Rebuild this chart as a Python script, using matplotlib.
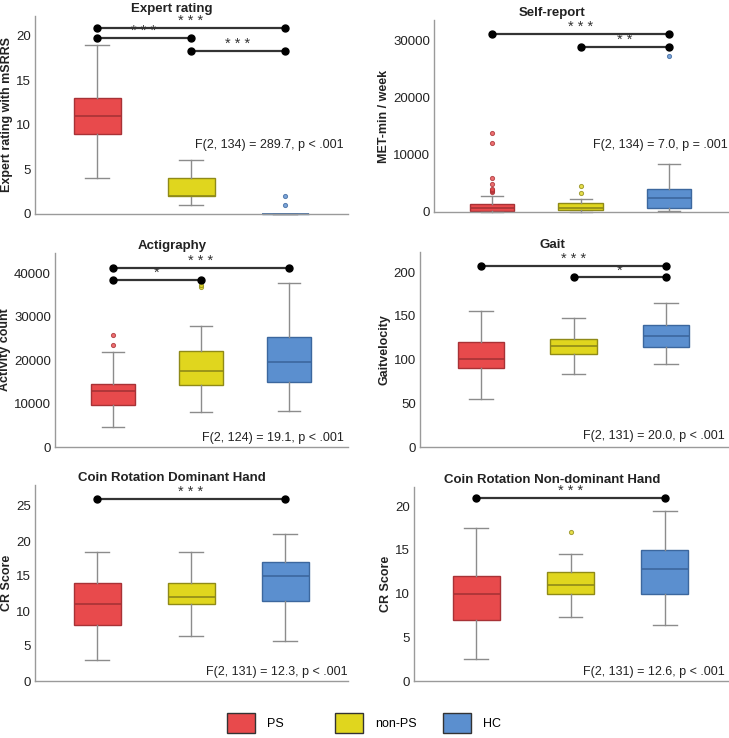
import matplotlib
matplotlib.use("Agg")
import matplotlib.pyplot as plt
from matplotlib.patches import Patch

plt.rcParams['font.family'] = ['Liberation Sans', 'DejaVu Sans']

groups = ["PS", "non-PS", "HC"]
fill_colors = ["#E84A4C", "#E0D61E", "#5B8FCF"]
edge_colors = ["#A83236", "#8F8A18", "#3C679E"]

titles = ["Expert rating", "Self-report", "Actigraphy", "Gait",
          "Coin Rotation Dominant Hand", "Coin Rotation Non-dominant Hand"]
ylabels = ["Expert rating with mSRRS", "MET-min / week", "Activity count",
           "Gaitvelocity", "CR Score", "CR Score"]
ftexts = ["F(2, 134) = 289.7, p < .001", "F(2, 134) = 7.0, p = .001",
          "F(2, 124) = 19.1, p < .001", "F(2, 131) = 20.0, p < .001",
          "F(2, 131) = 12.3, p < .001", "F(2, 131) = 12.6, p < .001"]

# box statistics per panel: [whislo, q1, med, q3, whishi] for PS, non-PS, HC
expert = [[4, 9, 11, 13, 19], [1, 2, 2, 4, 6], [0, 0, 0, 0, 0]]
expert_out = [[], [], [1, 2]]
selfrep = [[0, 200, 700, 1400, 2800], [0, 400, 700, 1600, 2200], [200, 700, 2400, 4100, 8400]]
selfrep_out = [[3500, 3700, 3900, 4100, 4800, 6000, 12000, 13800], [3400, 4500], [27300]]
actig = [[4700, 9700, 12800, 14400, 21800], [8000, 14300, 17400, 22000, 27800],
         [8300, 15000, 19500, 25200, 37800]]
actig_out = [[23400, 25800], [36800, 37300], []]
gait = [[55, 90, 101, 120, 155], [84, 106, 115, 124, 147], [95, 114, 127, 140, 165]]
gait_out = [[], [], []]
coin_dom = [[3, 8, 11, 14, 18.5], [6.4, 11, 12, 14, 18.5], [5.7, 11.5, 15, 17, 21]]
coin_dom_out = [[], [], []]
coin_nd = [[2.5, 7, 10, 12, 17.5], [7.3, 10, 11, 12.5, 14.5], [6.4, 10, 12.8, 15, 19.5]]
coin_nd_out = [[], [17], []]

# significance bars: (group i, group j, height, stars)
sig_expert = [(1, 3, 20.9, "* * *"), (1, 2, 19.7, "* * *"), (2, 3, 18.3, "* * *")]
sig_selfrep = [(1, 3, 31100, "* * *"), (2, 3, 28800, "* *")]
sig_actig = [(1, 3, 41100, "* * *"), (1, 2, 38400, "*")]
sig_gait = [(1, 3, 207, "* * *"), (2, 3, 194, "*")]
sig_coin_dom = [(1, 3, 26, "* * *")]
sig_coin_nd = [(1, 3, 20.9, "* * *")]

yticks = [[0, 5, 10, 15, 20], [0, 10000, 20000, 30000], [0, 10000, 20000, 30000, 40000],
          [0, 50, 100, 150, 200], [0, 5, 10, 15, 20, 25], [0, 5, 10, 15, 20]]
ylims = [(0, 22.2), (0, 33500), (0, 44600), (0, 223), (0, 28), (0, 22.2)]

stats_all = [expert, selfrep, actig, gait, coin_dom, coin_nd]
outs_all = [expert_out, selfrep_out, actig_out, gait_out, coin_dom_out, coin_nd_out]
sigs_all = [sig_expert, sig_selfrep, sig_actig, sig_gait, sig_coin_dom, sig_coin_nd]
ftext_y = [7.75, 11700, 2060, 12.6, 1.3, 1.03]
ftext_x = [0.985, 1.0, 0.986, 0.99, 1.0, 0.99]

W, H = 729, 738
# axes pixel boxes: left, right, top, bottom
boxes = [(35, 348, 16, 214), (434, 728, 20, 212),
         (55, 348, 253, 447), (420, 728, 252, 447),
         (35, 348, 485, 681), (414, 728, 487, 681)]
title_cx = [172, 552, 172, 552, 172, 552]

fig = plt.figure(figsize=(W / 100, H / 100), dpi=100)

for k in range(6):
    l, r, t, b = boxes[k]
    ax = fig.add_axes([l / W, (H - b) / H, (r - l) / W, (b - t) / H])
    stats = []
    for g in range(3):
        lo, q1, med, q3, hi = stats_all[k][g]
        stats.append(dict(whislo=lo, q1=q1, med=med, q3=q3, whishi=hi,
                          fliers=outs_all[k][g], label=groups[g]))
    for g in range(3):
        ax.bxp([stats[g]], positions=[g + 1], widths=0.5, capwidths=0.25,
               patch_artist=True, showfliers=True,
               boxprops=dict(facecolor=fill_colors[g], edgecolor=edge_colors[g], linewidth=1),
               medianprops=dict(color=edge_colors[g], linewidth=1.2),
               whiskerprops=dict(color="#8c8c8c", linewidth=1),
               capprops=dict(color="#8c8c8c", linewidth=1),
               flierprops=dict(marker='o', markersize=3, markerfacecolor=fill_colors[g],
                               markeredgecolor=edge_colors[g], markeredgewidth=0.7,
                               linestyle='none', alpha=0.8))
    for art in ax.patches + ax.lines:
        art.set_clip_on(False)
    ax.set_xlim(0.34, 3.67)
    ax.set_ylim(*ylims[k])
    ax.set_yticks(yticks[k])
    ax.set_xticks([])
    ax.tick_params(axis='y', length=0, pad=3, labelsize=9.5, colors="#222222")
    for s in ["top", "right"]:
        ax.spines[s].set_visible(False)
    for s in ["left", "bottom"]:
        ax.spines[s].set_color("#9a9a9a")
        ax.spines[s].set_linewidth(1)
    ax.set_title(titles[k], fontsize=9.5, fontweight='bold', pad=3, color="#222222",
                 x=(title_cx[k] - l) / (r - l))
    ax.set_ylabel(ylabels[k], fontsize=9, fontweight='bold', labelpad=2, color="#222222")
    ax.text(ftext_x[k], ftext_y[k], ftexts[k], transform=ax.get_yaxis_transform(),
            ha='right', va='center', fontsize=9, color="#222222")
    for (i, j, h, st) in sigs_all[k]:
        ax.plot([i, j], [h, h], color="#333333", linewidth=1.6, marker='o',
                markersize=5, markerfacecolor="black", markeredgecolor="black",
                clip_on=False)
        ax.text((i + j) / 2, h, st, ha='center', va='bottom', fontsize=10.5,
                color="#333333")

# legend
leg_x = [227, 335, 443]
for g in range(3):
    h = [Patch(facecolor=fill_colors[g], edgecolor="#333333", linewidth=1)]
    fig.legend(h, [groups[g]], loc='center left',
               bbox_to_anchor=(leg_x[g] / W, (H - 723) / H), frameon=False,
               fontsize=9, handlelength=2.2, handleheight=2.2, handletextpad=1.0,
               borderaxespad=0, borderpad=0)

fig.savefig("out.png", dpi=100)
